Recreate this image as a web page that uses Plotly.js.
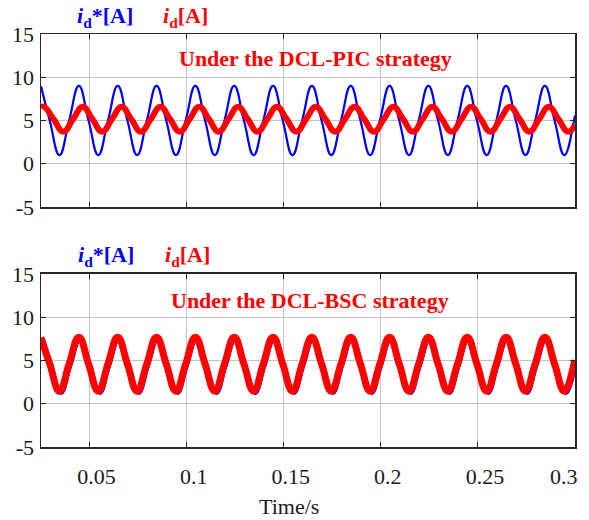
<!DOCTYPE html>
<html>
<head>
<meta charset="utf-8">
<script src="https://cdn.plot.ly/plotly-3.0.1.min.js"></script>
<style>
  html, body { margin: 0; padding: 0; background: #fff; }
  #chart { width: 589px; height: 520px; }
</style>
</head>
<body>
<div id="chart"></div>
<script>
// ---- DCL-PIC: reference id* (blue) and measured id (red), time in s, current in A
const tPicRef = [0.025, 0.0295, 0.0345, 0.0395, 0.0445, 0.0495, 0.0545, 0.0595, 0.0645, 0.0695, 0.0745,
  0.0795, 0.0845, 0.0895, 0.0945, 0.0995, 0.1045, 0.1095, 0.1145, 0.1195, 0.1245, 0.1295, 0.1345, 0.1395,
  0.1445, 0.1495, 0.1545, 0.1595, 0.1645, 0.1695, 0.1745, 0.1795, 0.1845, 0.1895, 0.1945, 0.1995, 0.2045,
  0.2095, 0.2145, 0.2195, 0.2245, 0.2295, 0.2345, 0.2395, 0.2445, 0.2495, 0.2545, 0.2595, 0.2645, 0.2695,
  0.2745, 0.2795, 0.2845, 0.2895, 0.2945, 0.2995, 0.3];
const idRefPic = [8.95,
  5.0, 1.0, 5.0, 9.0,  5.0, 1.0, 5.0, 9.0,  5.0, 1.0, 5.0, 9.0,  5.0, 1.0, 5.0, 9.0,
  5.0, 1.0, 5.0, 9.0,  5.0, 1.0, 5.0, 9.0,  5.0, 1.0, 5.0, 9.0,  5.0, 1.0, 5.0, 9.0,
  5.0, 1.0, 5.0, 9.0,  5.0, 1.0, 5.0, 9.0,  5.0, 1.0, 5.0, 9.0,  5.0, 1.0, 5.0, 9.0,
  5.0, 1.0, 5.0, 9.0,  5.0, 1.0, 5.0,
  5.6];

const tPicMeas = [0.025, 0.0265, 0.0315, 0.0365, 0.0415, 0.0465, 0.0515, 0.0565, 0.0615, 0.0665, 0.0715,
  0.0765, 0.0815, 0.0865, 0.0915, 0.0965, 0.1015, 0.1065, 0.1115, 0.1165, 0.1215, 0.1265, 0.1315, 0.1365,
  0.1415, 0.1465, 0.1515, 0.1565, 0.1615, 0.1665, 0.1715, 0.1765, 0.1815, 0.1865, 0.1915, 0.1965, 0.2015,
  0.2065, 0.2115, 0.2165, 0.2215, 0.2265, 0.2315, 0.2365, 0.2415, 0.2465, 0.2515, 0.2565, 0.2615, 0.2665,
  0.2715, 0.2765, 0.2815, 0.2865, 0.2915, 0.2965, 0.3];
const idMeasPic = [6.45,
  6.6, 5.15, 3.7, 5.15,  6.6, 5.15, 3.7, 5.15,  6.6, 5.15, 3.7, 5.15,  6.6, 5.15, 3.7, 5.15,
  6.6, 5.15, 3.7, 5.15,  6.6, 5.15, 3.7, 5.15,  6.6, 5.15, 3.7, 5.15,  6.6, 5.15, 3.7, 5.15,
  6.6, 5.15, 3.7, 5.15,  6.6, 5.15, 3.7, 5.15,  6.6, 5.15, 3.7, 5.15,  6.6, 5.15, 3.7, 5.15,
  6.6, 5.15, 3.7, 5.15,  6.6, 5.15, 3.7,
  4.5];

// ---- DCL-BSC: reference id* (blue) and measured id (red)
const tBscRef = [0.025, 0.0305, 0.0355, 0.0405, 0.0455, 0.0505, 0.0555, 0.0605, 0.0655, 0.0705, 0.0755,
  0.0805, 0.0855, 0.0905, 0.0955, 0.1005, 0.1055, 0.1105, 0.1155, 0.1205, 0.1255, 0.1305, 0.1355, 0.1405,
  0.1455, 0.1505, 0.1555, 0.1605, 0.1655, 0.1705, 0.1755, 0.1805, 0.1855, 0.1905, 0.1955, 0.2005, 0.2055,
  0.2105, 0.2155, 0.2205, 0.2255, 0.2305, 0.2355, 0.2405, 0.2455, 0.2505, 0.2555, 0.2605, 0.2655, 0.2705,
  0.2755, 0.2805, 0.2855, 0.2905, 0.2955, 0.3];
const idRefBsc = [7.4,
  4.35, 1.15, 4.35, 7.45,  4.35, 1.15, 4.35, 7.45,  4.35, 1.15, 4.35, 7.45,  4.35, 1.15, 4.35, 7.45,
  4.35, 1.15, 4.35, 7.45,  4.35, 1.15, 4.35, 7.45,  4.35, 1.15, 4.35, 7.45,  4.35, 1.15, 4.35, 7.45,
  4.35, 1.15, 4.35, 7.45,  4.35, 1.15, 4.35, 7.45,  4.35, 1.15, 4.35, 7.45,  4.35, 1.15, 4.35, 7.45,
  4.35, 1.15, 4.35, 7.45,  4.35, 1.15,
  3.85];

const tBscMeas = tPicRef;
const idMeasBsc = [7.65,
  4.6, 1.45, 4.6, 7.7,  4.6, 1.45, 4.6, 7.7,  4.6, 1.45, 4.6, 7.7,  4.6, 1.45, 4.6, 7.7,
  4.6, 1.45, 4.6, 7.7,  4.6, 1.45, 4.6, 7.7,  4.6, 1.45, 4.6, 7.7,  4.6, 1.45, 4.6, 7.7,
  4.6, 1.45, 4.6, 7.7,  4.6, 1.45, 4.6, 7.7,  4.6, 1.45, 4.6, 7.7,  4.6, 1.45, 4.6, 7.7,
  4.6, 1.45, 4.6, 7.7,  4.6, 1.45, 4.6,
  5.05];

// ---- axis ticks and labels
const xTickVals = [0.05, 0.1, 0.15, 0.2, 0.25, 0.3];
const xTickText = ['0.05', '0.1', '0.15', '0.2', '0.25', '0.3'];
const yTickVals = [-5, 0, 5, 10, 15];
const yTickText = ['-5', '0', '5', '10', '15'];
const panelTitles = ['Under the DCL-PIC strategy', 'Under the DCL-BSC strategy'];
const refLabel = '<b><i>i</i><sub>d</sub>*[A]</b>';
const measLabel = '<b><i>i</i><sub>d</sub>[A]</b>';
const xTitle = 'Time/s';

const SERIF = 'Liberation Serif';
const BLUE = '#0000ff';
const RED = '#ff0000';
const FRAME = '#262626';
const GRID = '#c4c4c4';
const INK = '#1a1a1a';

function line(x, y, color, width, xa, ya) {
  return {
    type: 'scatter', mode: 'lines', x: x, y: y, xaxis: xa, yaxis: ya,
    line: { color: color, width: width, shape: 'spline', smoothing: 1.3 },
    hoverinfo: 'skip', showlegend: false
  };
}

const data = [
  line(tPicRef, idRefPic, BLUE, 2.2, 'x2', 'y2'),
  line(tPicMeas, idMeasPic, RED, 6, 'x2', 'y2'),
  line(tBscRef, idRefBsc, BLUE, 2.2, 'x', 'y'),
  line(tBscMeas, idMeasBsc, RED, 7, 'x', 'y')
];

const xCommon = {
  range: [0.025, 0.3], tickmode: 'array', tickvals: xTickVals, ticktext: xTickText,
  showgrid: true, gridcolor: GRID, gridwidth: 1, zeroline: false,
  showline: true, linecolor: FRAME, linewidth: 1.5, mirror: 'ticks',
  ticks: 'inside', ticklen: 5, tickwidth: 1, tickcolor: FRAME
};
const yCommon = {
  range: [-5, 15], tickmode: 'array', tickvals: yTickVals, ticktext: yTickText,
  showgrid: true, gridcolor: GRID, gridwidth: 1, zeroline: false,
  showline: true, linecolor: FRAME, linewidth: 1.5, mirror: 'ticks',
  ticks: 'inside', ticklen: 5, tickwidth: 1, tickcolor: FRAME,
  tickfont: { family: SERIF, size: 22, color: INK }, ticklabelstandoff: 1
};

// pixel helpers relative to the plotting block (41..575 wide, 34..447 tall)
const px = v => (v - 41) / 534;
const py = v => (447 - v) / 413;

function label(text, color, x, y, size) {
  return {
    xref: 'paper', yref: 'paper', x: px(x), y: py(y), xanchor: 'center', yanchor: 'middle',
    text: text, showarrow: false, font: { family: SERIF, size: size, color: color }
  };
}

const lastX = xTickVals.length - 1;
const annotations = [
  label(refLabel, BLUE, 105, 17, 22),
  label(measLabel, RED, 185, 17, 22),
  label(refLabel, BLUE, 106, 256, 22),
  label(measLabel, RED, 187, 256, 22),
  label('<b>' + panelTitles[0] + '</b>', RED, 315, 59, 22),
  label('<b>' + panelTitles[1] + '</b>', RED, 310, 300, 22),
  label(xTitle, INK, 289, 506, 22),
  {
    xref: 'x', yref: 'paper', x: xTickVals[lastX], y: py(476), xanchor: 'center', yanchor: 'middle',
    xshift: -11, text: xTickText[lastX], showarrow: false,
    font: { family: SERIF, size: 22, color: INK }
  }
];

const layout = {
  width: 589, height: 520,
  margin: { l: 41, r: 14, t: 34, b: 73 },
  paper_bgcolor: '#ffffff', plot_bgcolor: '#ffffff',
  showlegend: false,
  font: { family: SERIF, color: INK },
  xaxis: Object.assign({}, xCommon, {
    anchor: 'y', domain: [0, 1],
    tickvals: xTickVals.slice(0, lastX), ticktext: xTickText.slice(0, lastX),
    tickfont: { family: SERIF, size: 22, color: INK }, ticklabelshift: 7, ticklabelstandoff: 9
  }),
  yaxis: Object.assign({}, yCommon, { anchor: 'x', domain: [0, 0.4189] }),
  xaxis2: Object.assign({}, xCommon, { anchor: 'y2', domain: [0, 1], showticklabels: false }),
  yaxis2: Object.assign({}, yCommon, { anchor: 'x2', domain: [0.5811, 1] }),
  annotations: annotations
};

Plotly.newPlot('chart', data, layout, { staticPlot: true, displayModeBar: false });
</script>
</body>
</html>
